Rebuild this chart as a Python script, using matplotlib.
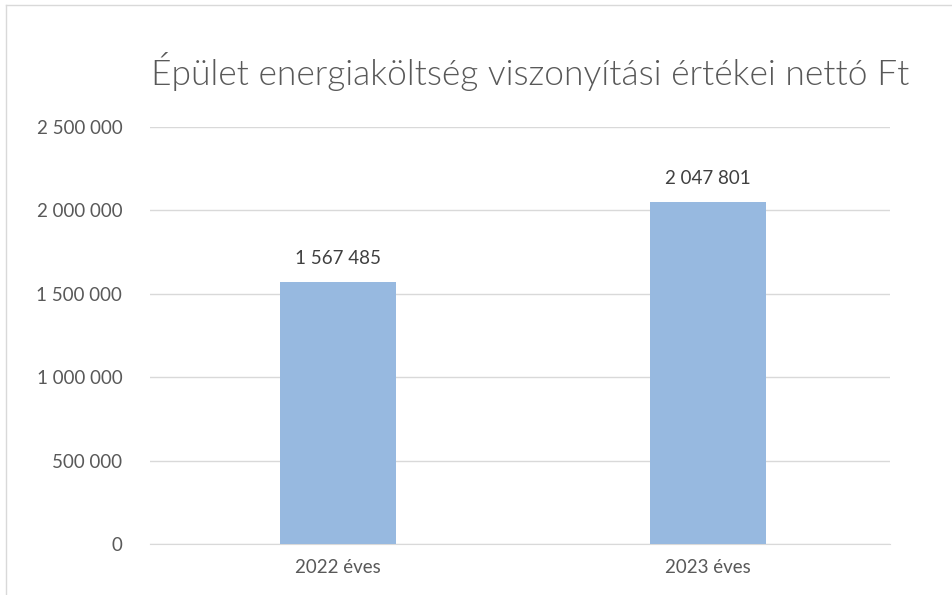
import matplotlib.pyplot as plt
from matplotlib.lines import Line2D

categories = ["2022 éves", "2023 éves"]
values = [1567485, 2047801]
yticks = [0, 500000, 1000000, 1500000, 2000000, 2500000]


def fmt(v):
    return f"{v:,.0f}".replace(",", " ")


plt.rcParams['font.family'] = ['Lato', 'DejaVu Sans']

fig = plt.figure(figsize=(9.52, 5.95), dpi=100)
ax = fig.add_axes([0.1576, 0.0857, 0.777, 0.701])

x = range(len(categories))
ax.bar(x, values, width=0.314, color="#97B9E0", zorder=3)
for i, v in zip(x, values):
    ax.annotate(fmt(v), (i, v), xytext=(0, 11), textcoords="offset points",
                ha="center", va="bottom", fontsize=13.5, color="#404040")

ax.set_xlim(-0.508, 1.492)
ax.set_ylim(0, 2500000)
ax.set_yticks(yticks)
ax.set_yticklabels([fmt(t) for t in yticks])
ax.set_xticks(list(x))
ax.set_xticklabels(categories)
ax.tick_params(axis="both", length=0, labelsize=13.5, labelcolor="#595959")
ax.tick_params(axis="y", pad=20)
ax.tick_params(axis="x", pad=11)
ax.grid(axis="y", color="#D9D9D9", linewidth=1, zorder=0)
for s in ["top", "right", "left"]:
    ax.spines[s].set_visible(False)
ax.spines["bottom"].set_color("#D9D9D9")

fig.text(0.557, 0.879, "Épület energiaköltség viszonyítási értékei nettó Ft",
         ha="center", va="center", fontsize=25.5, color="#595959", fontweight=300)

# chart border (left and top edges visible)
fig.add_artist(Line2D([0.006, 0.006], [0, 0.992], color="#D9D9D9", lw=1))
fig.add_artist(Line2D([0.006, 1], [0.992, 0.992], color="#D9D9D9", lw=1))

fig.savefig("out.png", dpi=100)
